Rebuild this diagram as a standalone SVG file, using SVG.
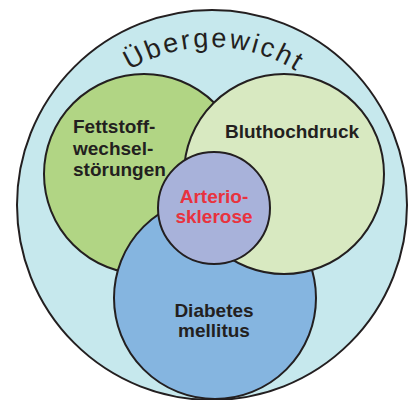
<svg xmlns="http://www.w3.org/2000/svg" xmlns:xlink="http://www.w3.org/1999/xlink" width="410" height="400" viewBox="0 0 410 400">
<style>
.c{stroke:#231f20;stroke-width:2}
.t{font-family:"Liberation Sans",Arial,sans-serif;font-weight:bold;font-size:19px;fill:#231f20}
.r{fill:#e8323e}
.arc{font-family:"Liberation Sans",Arial,sans-serif;font-size:27px;fill:#231f20;letter-spacing:2.5px}
</style>
<defs>
<path id="arcp" d="M54,205 A158,158 0 0 1 370,205"/>
</defs>
<rect width="410" height="400" fill="#ffffff"/>
<g id="uebergewicht">
<circle class="c" cx="212" cy="205" r="195" fill="#c6e8ed"/>
<text class="arc"><textPath xlink:href="#arcp" startOffset="250" text-anchor="middle">Übergewicht</textPath></text>
</g>
<g id="fettstoff">
<circle class="c" cx="144" cy="174" r="100" fill="#b1d584"/>
</g>
<g id="diabetes">
<circle class="c" cx="215" cy="298" r="101" fill="#85b5e0"/>
</g>
<g id="bluthochdruck">
<circle class="c" cx="284" cy="174" r="100" fill="#d8e9c1"/>
</g>
<g id="arteriosklerose">
<circle class="c" cx="214" cy="208" r="56" fill="#a8b2da"/>
</g>
<g id="labels">
<text class="t" x="73" y="133">Fettstoff-</text>
<text class="t" x="73" y="155">wechsel-</text>
<text class="t" x="73" y="176">störungen</text>
<text class="t" x="225" y="138">Bluthochdruck</text>
<text class="t r" x="214" y="203" text-anchor="middle">Arterio-</text>
<text class="t r" x="214" y="223" text-anchor="middle">sklerose</text>
<text class="t" x="214" y="317" text-anchor="middle">Diabetes</text>
<text class="t" x="214" y="337" text-anchor="middle">mellitus</text>
</g>
<g id="connectors"/>
</svg>
